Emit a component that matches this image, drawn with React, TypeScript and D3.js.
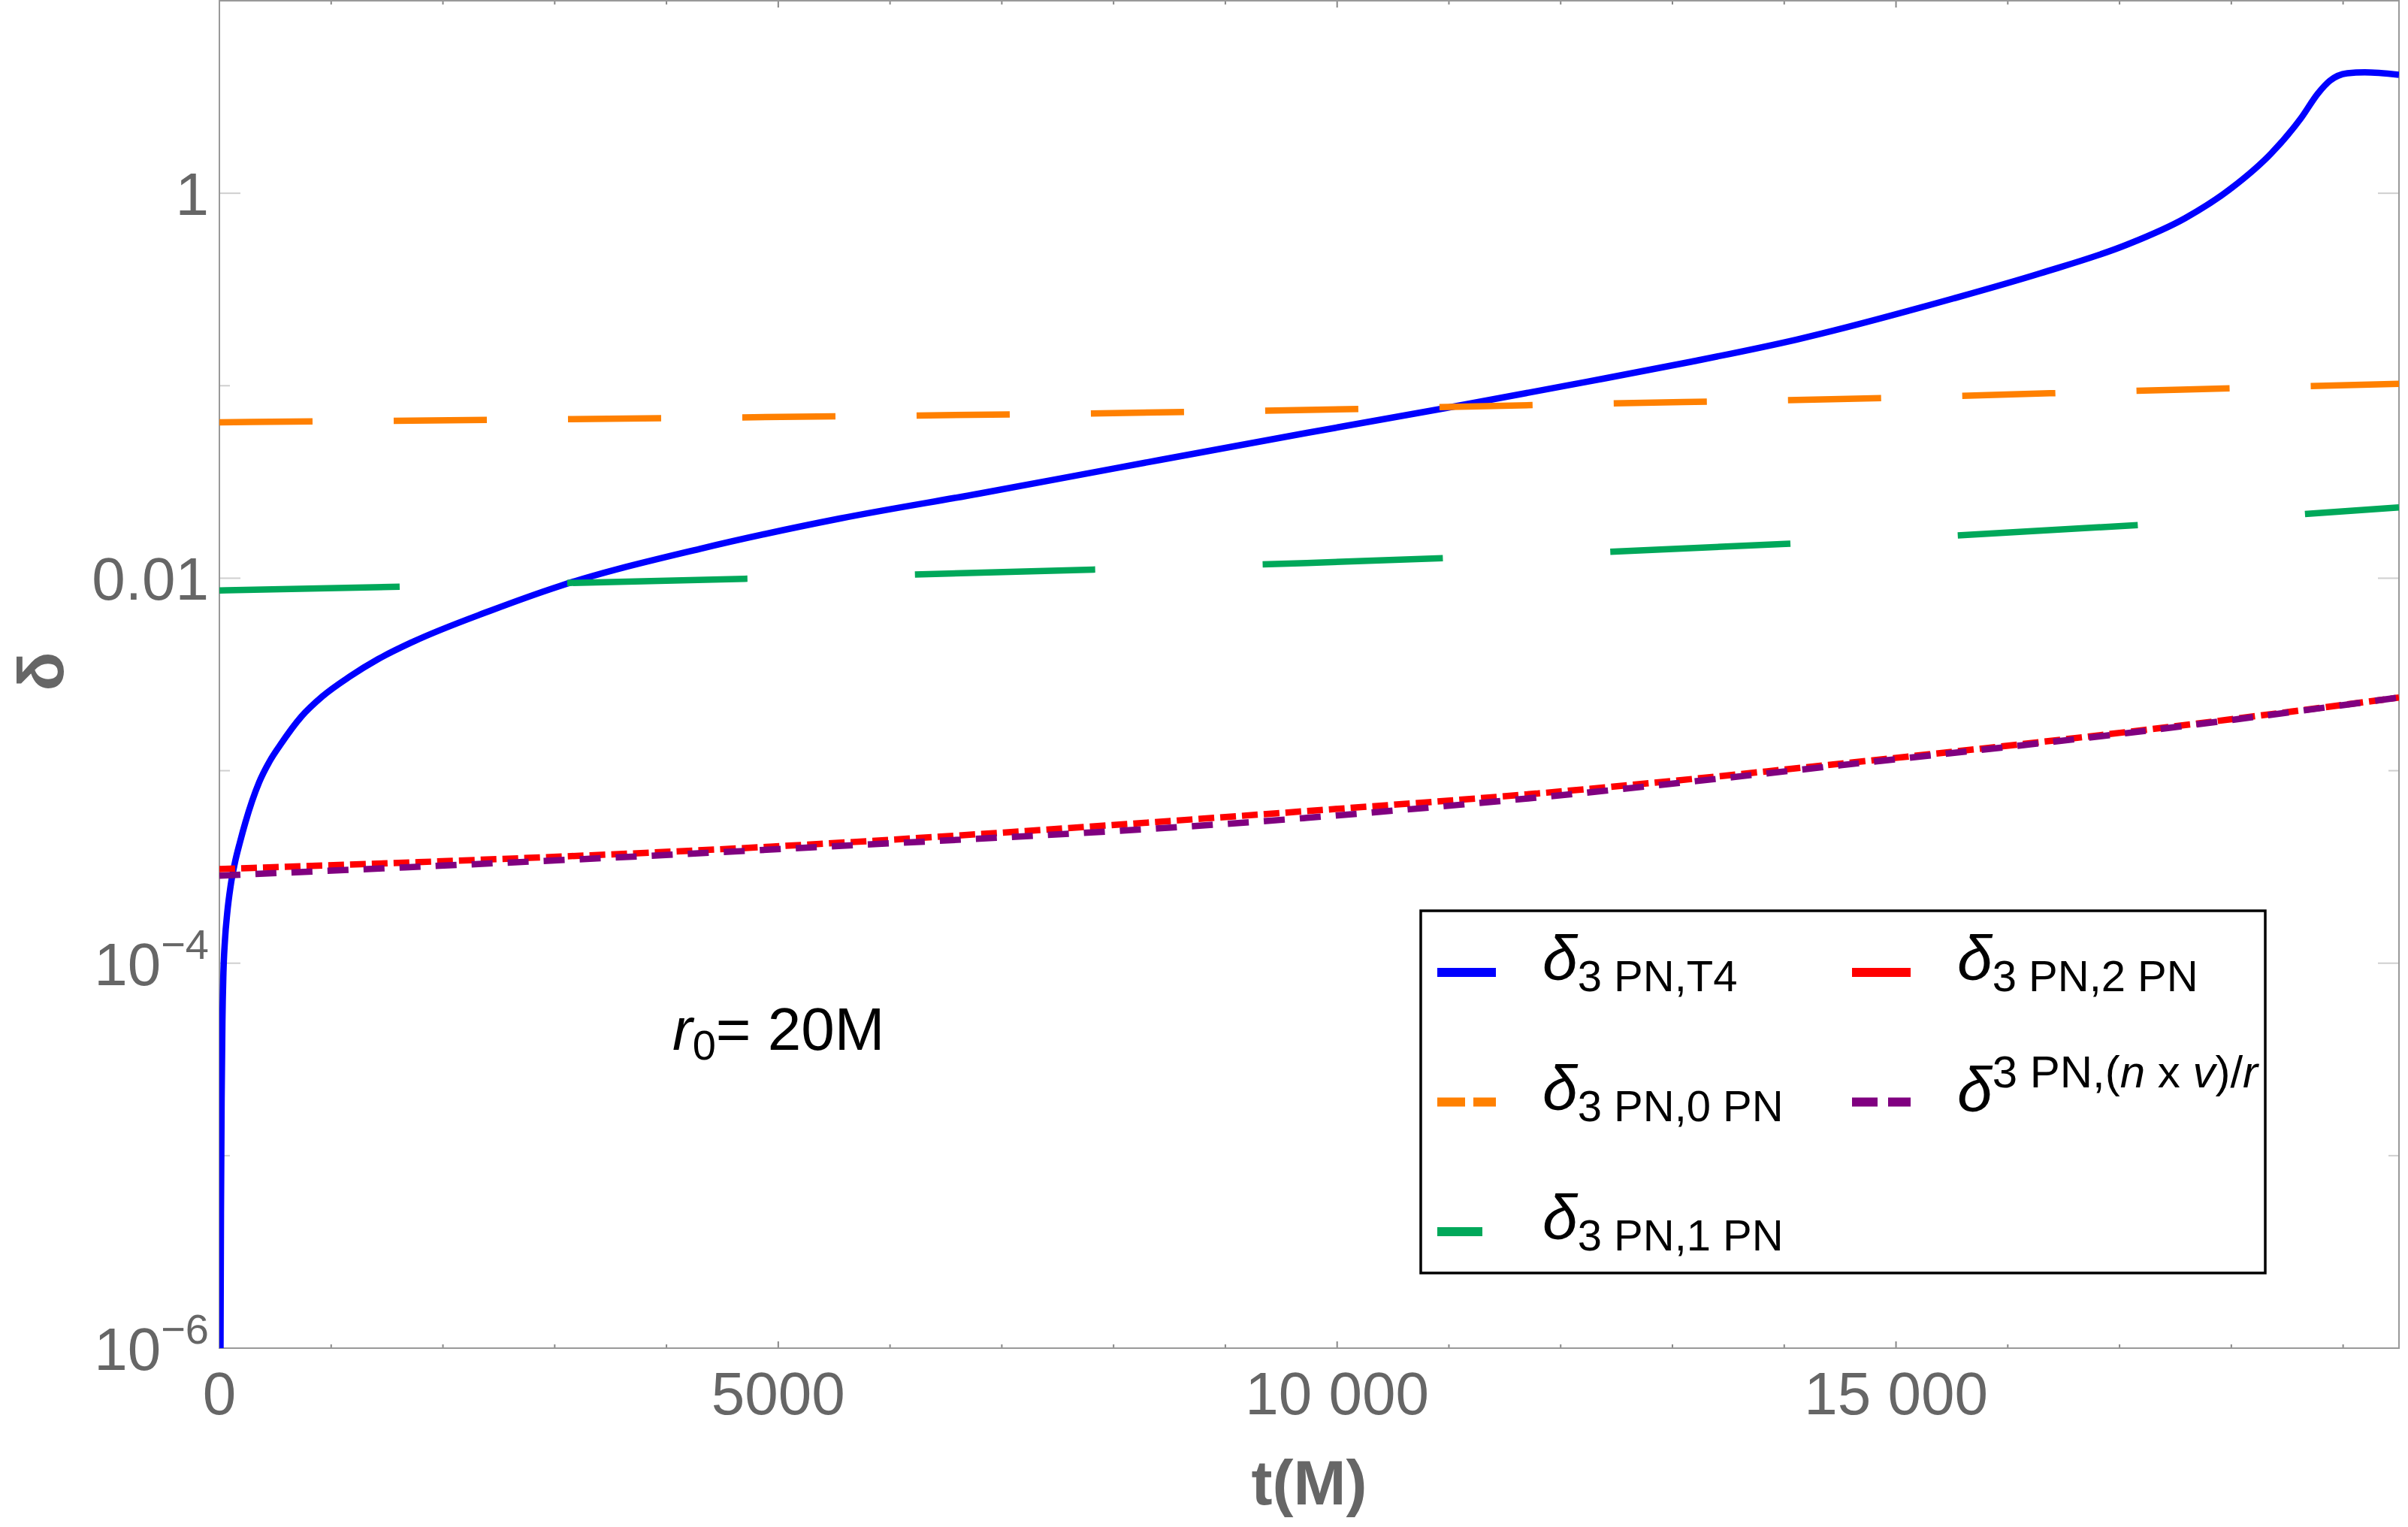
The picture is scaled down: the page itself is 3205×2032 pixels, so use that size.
import React from "react";
import * as d3 from "d3";

// time axis samples t(M) and δ values for each curve
const tT4 = [6, 10, 14, 20, 27, 36, 50, 70, 100, 138, 185, 232, 356, 450, 544, 733, 921, 1169, 1421, 1734, 2419, 3048, 4301, 5551, 6801, 8051, 9731, 10981, 12231, 13172, 14113, 15511, 16290, 17067, 17585, 18000, 18360, 18622, 18777, 18881, 19037, 19193, 19500];
const dT4 = [3e-7, 1.0e-6, 5.0e-6, 2.0e-5, 5.0e-5, 8.9e-5, 1.32e-4, 1.82e-4, 2.51e-4, 3.31e-4, 4.27e-4, 5.37e-4, 8.71e-4, 1.12e-3, 1.36e-3, 1.91e-3, 2.43e-3, 3.09e-3, 3.8e-3, 4.68e-3, 6.76e-3, 9.12e-3, 0.01422, 0.02042, 0.02754, 0.03758, 0.05689, 0.07674, 0.1047, 0.1334, 0.1738, 0.2838, 0.3837, 0.5408, 0.7413, 1.062, 1.618, 2.449, 3.311, 3.837, 4.198, 4.246, 4.121];

const t0PN = [0, 4300, 9730, 12230, 14420, 17550, 19500];
const d0PN = [0.0646, 0.0681, 0.0748, 0.0804, 0.0851, 0.0955, 0.1023];

const t1PN = [0, 4700, 7820, 9730, 14050, 17180, 19500];
const d1PN = [0.00863, 0.00993, 0.01109, 0.012, 0.0151, 0.0189, 0.0233];

const t2PN = [0, 4926, 9731, 11775, 14520, 17267, 19500];
const d2PN = [3.08e-4, 4.03e-4, 6.17e-4, 7.6e-4, 1.09e-3, 1.64e-3, 2.4e-3];

const tNxv = [0, 4926, 9731, 11775, 14520, 17267, 19500];
const dNxv = [2.85e-4, 3.89e-4, 5.69e-4, 7.24e-4, 1.07e-3, 1.62e-3, 2.4e-3];

const xMajor = [0, 5000, 10000, 15000];
const xLabels = ["0", "5000", "10 000", "15 000"];
const xMinor = d3.range(1000, 19500, 1000).filter((v) => v % 5000 !== 0);

const yMajor = [1, 1e-2, 1e-4, 1e-6];
const yLabels = ["1", "0.01", "10^-4", "10^-6"];
const yMinor = [10, 0.1, 1e-3, 1e-5];

const FONT = "'Liberation Sans', Arial, Helvetica, sans-serif";

const left = 292, right = 3193, top = 1, bottom = 1794;

const x = d3.scaleLinear().domain([0, 19500]).range([left, right]);
const y = d3.scaleLog().domain([1e-6, 10]).range([bottom, top]);

const series = [
  { id: "t4", t: tT4, v: dT4, color: "#0000ff", dash: "none", width: 8.5 },
  { id: "0pn", t: t0PN, v: d0PN, color: "#ff8000", dash: "124 108", width: 8.5 },
  { id: "1pn", t: t1PN, v: d1PN, color: "#00a85a", dash: "240 223", width: 8.5 },
  { id: "2pn", t: t2PN, v: d2PN, color: "#ff0000", dash: "21 8", width: 8.5 },
  { id: "nxv", t: tNxv, v: dNxv, color: "#800080", dash: "28 20", width: 8.5 },
];

const line = d3
  .line<[number, number]>()
  .x((d) => x(d[0]))
  .y((d) => y(d[1]))
  .curve(d3.curveMonotoneX);

// legend: column, row, sample dash, subscript text
const legendItems = [
  { s: 0, col: 0, row: 0, dash: "none", sub: "3 PN,T4" },
  { s: 1, col: 0, row: 1, dash: "37 11", sub: "3 PN,0 PN" },
  { s: 2, col: 0, row: 2, dash: "60 100", sub: "3 PN,1 PN" },
  { s: 3, col: 1, row: 0, dash: "none", sub: "3 PN,2 PN" },
  { s: 4, col: 1, row: 1, dash: "34 14", sub: null },
];

function YLabel({ label, yy }: { label: string; yy: number }) {
  const parts = label.split("^");
  return (
    <text x={278} y={yy + 29} textAnchor="end" fontSize={80} fill="#666" fontFamily={FONT}>
      {parts[0]}
      {parts[1] && (
        <tspan fontSize={56} dy={-35}>
          {parts[1].replace("-", "\u2212")}
        </tspan>
      )}
    </text>
  );
}

export default function App() {
  return (
    <svg width={3205} height={2032} style={{ position: "absolute", left: 0, top: 0, background: "#fff" }} fontFamily={FONT}>
      <defs>
        <clipPath id="plot">
          <rect x={left} y={top} width={right - left} height={bottom - top} />
        </clipPath>
      </defs>
      <rect width={3205} height={2032} fill="#fff" />

      {/* y ticks, both sides */}
      {yMajor.map((v) => (
        <g key={"ym" + v} stroke="#cfcfcf" strokeWidth={2}>
          <line x1={left} x2={left + 28} y1={y(v)} y2={y(v)} />
          <line x1={right} x2={right - 28} y1={y(v)} y2={y(v)} />
        </g>
      ))}
      {yMinor.map((v) => (
        <g key={"yn" + v} stroke="#cfcfcf" strokeWidth={2}>
          <line x1={left} x2={left + 14} y1={y(v)} y2={y(v)} />
          <line x1={right} x2={right - 14} y1={y(v)} y2={y(v)} />
        </g>
      ))}

      {/* x ticks, bottom and top */}
      {xMajor.map((v) => (
        <g key={"xm" + v} stroke="#888" strokeWidth={2}>
          <line x1={x(v)} x2={x(v)} y1={bottom} y2={bottom - 9} />
          <line x1={x(v)} x2={x(v)} y1={top} y2={top + 9} />
        </g>
      ))}
      {xMinor.map((v) => (
        <g key={"xn" + v} stroke="#888" strokeWidth={2}>
          <line x1={x(v)} x2={x(v)} y1={bottom} y2={bottom - 5} />
          <line x1={x(v)} x2={x(v)} y1={top} y2={top + 5} />
        </g>
      ))}

      {/* frame */}
      <rect x={left} y={top} width={right - left} height={bottom - top} fill="none" stroke="#999" strokeWidth={2} />

      {/* curves */}
      <g clipPath="url(#plot)">
        {series.map((s) => (
          <path
            key={s.id}
            d={line(s.t.map((t, i) => [t, s.v[i]] as [number, number])) || ""}
            fill="none"
            stroke={s.color}
            strokeWidth={s.width}
            strokeDasharray={s.dash}
          />
        ))}
      </g>

      {/* tick labels */}
      {xMajor.map((v, i) => (
        <text key={"xl" + v} x={x(v)} y={1882} textAnchor="middle" fontSize={80} fill="#666">
          {xLabels[i]}
        </text>
      ))}
      {yMajor.map((v, i) => (
        <YLabel key={"yl" + v} label={yLabels[i]} yy={y(v)} />
      ))}

      {/* axis labels */}
      <text x={(left + right) / 2} y={2002} textAnchor="middle" fontSize={84} fontWeight="bold" fill="#666">
        t(M)
      </text>
      <text transform={`translate(84, ${(top + bottom) / 2 - 4}) rotate(-90)`} textAnchor="middle" fontSize={86} fontWeight="bold" fill="#666">
        δ
      </text>

      {/* annotation */}
      <text x={895} y={1397} fontSize={80} fill="#000">
        <tspan fontStyle="italic">r</tspan>
        <tspan fontSize={56} dy={13}>0</tspan>
        <tspan dy={-13}>= 20M</tspan>
      </text>

      {/* legend */}
      <rect x={1891} y={1212} width={1124} height={482} fill="#fff" stroke="#000" strokeWidth={3.5} />
      {legendItems.map((it) => {
        const s = series[it.s];
        const x0 = it.col === 0 ? 1913 : 2465;
        const ly = 1294 + it.row * 172.5;
        return (
          <g key={"lg" + s.id}>
            <line x1={x0} x2={x0 + 78} y1={ly} y2={ly} stroke={s.color} strokeWidth={12} strokeDasharray={it.dash} />
            {it.sub ? (
              <text x={x0 + 140} y={ly + 10} fontSize={84} fill="#000">
                <tspan fontStyle="italic">δ</tspan>
                <tspan fontSize={58} dy={15}>{it.sub}</tspan>
              </text>
            ) : (
              <text x={x0 + 140} y={ly + 12} fontSize={84} fill="#000">
                <tspan fontStyle="italic">δ</tspan>
                <tspan fontSize={60} dy={-32}>3 PN,(</tspan>
                <tspan fontSize={60} fontStyle="italic">n</tspan>
                <tspan fontSize={60}> x </tspan>
                <tspan fontSize={60} fontStyle="italic">v</tspan>
                <tspan fontSize={60}>)/</tspan>
                <tspan fontSize={60} fontStyle="italic">r</tspan>
              </text>
            )}
          </g>
        );
      })}
    </svg>
  );
}
